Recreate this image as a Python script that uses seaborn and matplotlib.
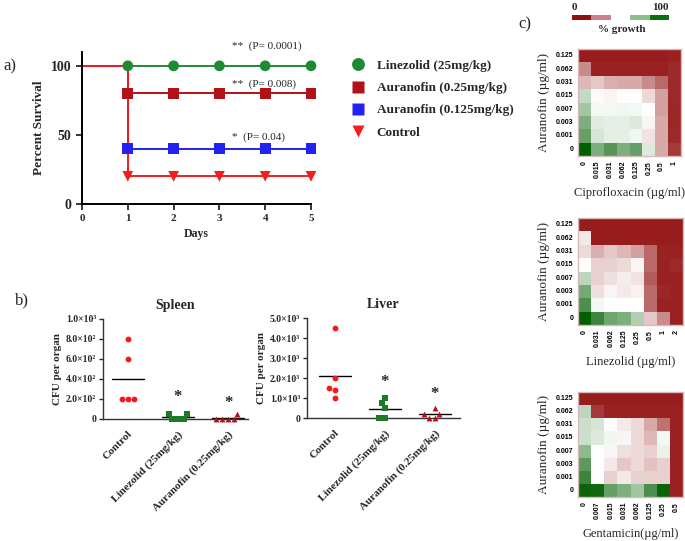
import matplotlib
matplotlib.use("Agg")
import matplotlib.pyplot as plt
from matplotlib.colors import LinearSegmentedColormap, ListedColormap
import numpy as np
import pandas as pd
import seaborn as sns

# ---- data ----
days = [0, 1, 2, 3, 4, 5]
groups = ["Linezolid (25mg/kg)", "Auranofin (0.25mg/kg)", "Auranofin (0.125mg/kg)", "Control"]
surv_linezolid = [100, 100, 100, 100, 100, 100]
surv_aur025 = [100, 80, 80, 80, 80, 80]
surv_aur0125 = [100, 40, 40, 40, 40, 40]
surv_control = [100, 20, 20, 20, 20, 20]
p_texts = ["**  (P= 0.0001)", "**  (P= 0.008)", "*  (P= 0.04)"]

organ_groups = ["Control", "Linezolid (25mg/kg)", "Auranofin (0.25mg/kg)"]
spleen_control = [800, 600, 200, 200, 200]
spleen_linezolid = [50, 0, 0, 0, 50]
spleen_auranofin = [50, 0, 0, 0, 0]
liver_control = [4500, 2000, 1500, 1400, 1000]
liver_linezolid = [1000, 750, 500, 0, 0]
liver_auranofin = [500, 200, 200, 0, 0]

auranofin_conc = ["0.125", "0.062", "0.031", "0.015", "0.007", "0.003", "0.001", "0"]
cipro_conc = ["0", "0.015", "0.031", "0.062", "0.125", "0.25", "0.5", "1"]
linezolid_conc = ["0", "0.031", "0.062", "0.125", "0.25", "0.5", "1", "2"]
genta_conc = ["0", "0.007", "0.015", "0.031", "0.062", "0.125", "0.25", "0.5"]

growth_cipro = [
    [2, 2, 2, 2, 2, 2, 2, 3],
    [25, 3, 3, 3, 3, 3, 3, 5],
    [35, 38, 33, 32, 32, 25, 18, 5],
    [62, 49, 48, 50, 50, 42, 30, 5],
    [68, 52, 52, 53, 52, 50, 30, 4],
    [75, 56, 55, 55, 57, 48, 32, 4],
    [80, 58, 55, 55, 53, 44, 32, 5],
    [100, 75, 83, 75, 80, 57, 32, 8],
]
growth_linezolid = [
    [2, 2, 2, 2, 2, 2, 2, 2],
    [45, 2, 2, 2, 2, 2, 2, 2],
    [42, 33, 38, 35, 30, 18, 3, 3],
    [50, 40, 40, 42, 48, 18, 3, 5],
    [63, 40, 43, 46, 44, 15, 3, 3],
    [77, 43, 48, 45, 47, 18, 4, 3],
    [85, 52, 50, 50, 50, 18, 3, 3],
    [100, 88, 78, 75, 65, 38, 25, 3],
]
growth_genta = [
    [2, 2, 2, 2, 2, 2, 2, 2],
    [63, 8, 3, 3, 3, 3, 3, 3],
    [60, 58, 50, 45, 42, 32, 20, 3],
    [60, 57, 53, 48, 42, 35, 52, 3],
    [72, 50, 48, 43, 42, 40, 54, 3],
    [82, 50, 45, 38, 42, 37, 40, 3],
    [88, 50, 40, 45, 40, 40, 40, 3],
    [98, 97, 80, 75, 68, 85, 98, 3],
]

W, H = 685, 541


def rect(l, t, r, b):
    return [l / W, 1 - b / H, (r - l) / W, (b - t) / H]


sns.set_style("white")
plt.rcParams["font.family"] = ["Liberation Serif", "DejaVu Serif"]
plt.rcParams["font.weight"] = "bold"

fig = plt.figure(figsize=(W / 100, H / 100), dpi=100)

# ---- a) survival ----
surv_colors = {groups[0]: "#1e8a32", groups[1]: "#b01218", groups[2]: "#2222f2", groups[3]: "#f41c1c"}
surv_markers = {groups[0]: "o", groups[1]: "s", groups[2]: "s", groups[3]: "v"}

ax = fig.add_axes(rect(82, 52, 311, 204))
for g, vals in zip(groups, [surv_linezolid, surv_aur025, surv_aur0125, surv_control]):
    sns.lineplot(x=days, y=vals, drawstyle="steps-post", color=surv_colors[g], lw=1.4, ax=ax)

surv = pd.DataFrame({
    "day": days[1:] * 4,
    "pct": surv_linezolid[1:] + surv_aur025[1:] + surv_aur0125[1:] + surv_control[1:],
    "group": np.repeat(groups, 5),
})
sns.scatterplot(data=surv, x="day", y="pct", hue="group", style="group",
                hue_order=groups, style_order=groups, palette=surv_colors,
                markers=surv_markers, s=60, edgecolor="none", zorder=3,
                clip_on=False, ax=ax)
handles, labels = ax.get_legend_handles_labels()
ax.legend_.remove()
fig.legend(handles, labels, loc="upper left", bbox_to_anchor=(333 / W, 1 - 48 / H),
           frameon=False, markerscale=1.2, handletextpad=0.4, labelspacing=0.75,
           prop={"weight": "bold", "size": 9.5})

ax.set_xlim(0, 5)
ax.set_ylim(0, 110)
ax.set_xticks(range(6))
ax.set_yticks([0, 50, 100])
ax.tick_params(axis="x", labelsize=8, width=1.3, length=4, direction="out", bottom=True)
ax.tick_params(axis="y", labelsize=10, width=1.3, length=4, direction="out", left=True)
for lab in ax.get_xticklabels() + ax.get_yticklabels():
    lab.set_fontweight("bold")
ax.set_xlabel("Days", fontsize=8.5, fontweight="bold", labelpad=3)
ax.set_ylabel("Percent Survival", fontsize=9.5, fontweight="bold", labelpad=4)
sns.despine(ax=ax)
for s in ["left", "bottom"]:
    ax.spines[s].set_linewidth(1.4)
    ax.spines[s].set_color("black")

for txt, y in zip(p_texts, [114, 86.5, 48]):
    ax.text(3.27, y, txt, fontsize=8, fontweight="normal", va="center", clip_on=False)

fig.text(3 / W, 1 - 66 / H, "a)", fontsize=12, fontweight="normal", va="center")

# ---- b) CFU ----
organ_colors = ["#f01c1c", "#1e7a28", "#b01218"]
organ_markers = ["o", "s", "^"]


def cfu_panel(r, values, title, ylim, ticks, ticklabels, xlim, stars):
    axb = fig.add_axes(r)
    for i, (g, vals) in enumerate(zip(organ_groups, values)):
        d = pd.DataFrame({"group": [g] * len(vals), "cfu": vals})
        sns.swarmplot(data=d, x="group", y="cfu", order=organ_groups, color=organ_colors[i],
                      marker=organ_markers[i], size=4.2, linewidth=0, clip_on=False,
                      zorder=3, ax=axb)
        m = np.mean(vals)
        axb.plot([i - 0.32, i + 0.32], [m, m], color="black", lw=1)
    for i, y in stars:
        axb.text(i, y, "*", ha="center", va="center", fontsize=12, fontweight="bold")
    axb.set_xlim(*xlim)
    axb.set_ylim(*ylim)
    axb.set_yticks(ticks)
    axb.set_yticklabels(ticklabels, fontsize=7, fontweight="bold")
    axb.set_xticks(range(3))
    axb.set_xticklabels(organ_groups, rotation=45, ha="right", rotation_mode="anchor",
                        fontsize=8, fontweight="bold")
    axb.tick_params(axis="y", left=True, width=1, length=3, pad=2)
    axb.tick_params(axis="x", bottom=False, pad=4)
    axb.set_xlabel("")
    axb.set_ylabel("CFU per organ", fontsize=8, fontweight="bold", labelpad=3)
    axb.set_title(title, fontsize=10, fontweight="bold", pad=7)
    sns.despine(ax=axb)
    for s in ["left", "bottom"]:
        axb.spines[s].set_linewidth(1)
        axb.spines[s].set_color("#333333")
    return axb


cfu_panel(rect(103, 319, 248, 419), [spleen_control, spleen_linezolid, spleen_auranofin],
          "Spleen", (0, 1000), [0, 200, 400, 600, 800, 1000],
          ["0", "2.0×10²", "4.0×10²", "6.0×10²", "8.0×10²", "1.0×10³"],
          (-0.5, 2.4), [(1, 215), (2, 165)])
cfu_panel(rect(307, 318, 460, 418), [liver_control, liver_linezolid, liver_auranofin],
          "Liver", (0, 5000), [0, 1000, 2000, 3000, 4000, 5000],
          ["0", "1.0×10³", "2.0×10³", "3.0×10³", "4.0×10³", "5.0×10³"],
          (-0.55, 2.5), [(1, 1780), (2, 1180)])

fig.text(15 / W, 1 - 300 / H, "b)", fontsize=12, fontweight="normal", va="center")

# ---- c) checkerboards ----
growth_cmap = LinearSegmentedColormap.from_list("growth", ["#931414", "#ffffff", "#005f00"])


def checker(r, data, xticks, xlabel):
    axh = fig.add_axes(r)
    sns.heatmap(np.array(data), cmap=growth_cmap, vmin=0, vmax=100, cbar=False,
                xticklabels=xticks, yticklabels=auranofin_conc, ax=axh)
    axh.tick_params(axis="both", length=2, width=0.6, pad=1.5, colors="#444444")
    for lab in axh.get_xticklabels() + axh.get_yticklabels():
        lab.set_fontfamily("Liberation Sans")
        lab.set_fontsize(5)
        lab.set_fontweight("bold")
        lab.set_color("black")
    axh.set_xticklabels(axh.get_xticklabels(), rotation=90)
    axh.set_yticklabels(axh.get_yticklabels(), rotation=0)
    for s in axh.spines.values():
        s.set_visible(True)
        s.set_color("#d8b8b8")
        s.set_linewidth(1)
    axh.set_ylabel("Auranofin (µg/ml)", fontsize=9.5, fontweight="normal", labelpad=4)
    axh.set_xlabel(xlabel, fontsize=9, fontweight="normal", labelpad=6)


checker(rect(578, 49, 681, 156), growth_cipro, cipro_conc, "Ciprofloxacin (µg/ml)")
checker(rect(578, 218, 683, 325), growth_linezolid, linezolid_conc, "Linezolid (µg/ml)")
checker(rect(578, 392, 683, 497), growth_genta, genta_conc, "Gentamicin(µg/ml)")

# legend bar for % growth
cb_colors = ["#8e1010", "#c98088", "#ffffff", "#8dbe8d", "#0e6e0e"]
axc = fig.add_axes(rect(572, 15, 669, 20))
sns.heatmap(np.arange(5).reshape(1, 5), cmap=ListedColormap(cb_colors), cbar=False,
            xticklabels=False, yticklabels=False, ax=axc)
fig.text(574 / W, 1 - 7 / H, "0", fontsize=8, fontweight="bold", ha="center", va="center")
fig.text(660 / W, 1 - 7 / H, "100", fontsize=8, fontweight="bold", ha="center", va="center")
fig.text(622 / W, 1 - 29 / H, "% growth", fontsize=8, fontweight="bold", ha="center", va="center")

fig.text(518 / W, 1 - 24 / H, "c)", fontsize=12, fontweight="normal", va="center")

fig.savefig("out.png", dpi=100)
